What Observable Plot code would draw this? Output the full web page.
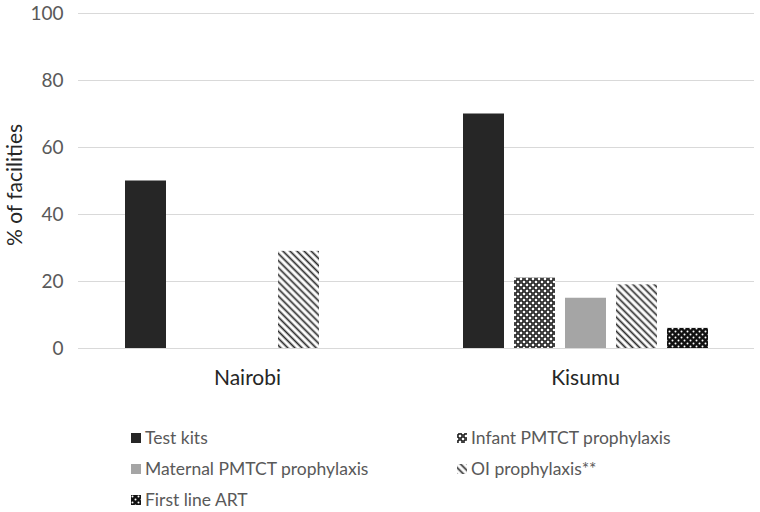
<!DOCTYPE html>
<html>
<head>
<meta charset="utf-8">
<script src="https://cdn.jsdelivr.net/npm/d3@7"></script>
<script src="https://cdn.jsdelivr.net/npm/@observablehq/plot@0.6"></script>
<style>
  body { margin: 0; background: #fff; font-family: Lato, "Open Sans", sans-serif; }
  #wrap { position: relative; width: 760px; height: 512px; overflow: hidden; }
  #legend { position: absolute; left: 131px; top: 423px; display: grid;
    grid-template-columns: 326px 290px; grid-template-rows: 29px 33px 29px;
    font-size: 17.5px; color: #595959; }
  .item { display: flex; align-items: center; white-space: nowrap; }
  .item svg { margin-right: 4px; }
</style>
</head>
<body>
<div id="wrap"><div id="chart"></div><div id="legend"></div></div>
<script>
const regions = ["Nairobi", "Kisumu"];
const series = ["Test kits", "Infant PMTCT prophylaxis", "Maternal PMTCT prophylaxis", "OI prophylaxis**", "First line ART"];
const testKits = [50, 70];
const infantPMTCT = [0, 21];
const maternalPMTCT = [0, 15];
const oiProphylaxis = [29, 19];
const firstLineART = [0, 6];
const yTicks = [0, 20, 40, 60, 80, 100];
const yLabel = "% of facilities";
const fills = ["#262626", "url(#pInfant)", "#a5a5a5", "url(#pOI)", "url(#pART)"];

const seriesValues = [testKits, infantPMTCT, maternalPMTCT, oiProphylaxis, firstLineART];
const data = [];
regions.forEach((r, i) => series.forEach((s, j) => data.push({region: r, series: s, value: seriesValues[j][i]})));

const chart = Plot.plot({
  width: 760, height: 400,
  marginTop: 13, marginBottom: 52, marginLeft: 78, marginRight: 6,
  style: {fontSize: "19px", fontFamily: "Lato, sans-serif", color: "#595959", background: "white"},
  fx: {domain: regions, padding: 0, label: null, axis: "bottom", tickSize: 0, tickPadding: 22},
  x: {domain: series, axis: null, paddingInner: 0.2, paddingOuter: 0.866},
  y: {domain: [0, 100], ticks: yTicks, tickSize: 0, tickPadding: 15, label: null},
  color: {domain: series, range: fills},
  marks: [
    Plot.ruleY(yTicks, {stroke: "#d9d9d9", strokeWidth: 1.2}),
    Plot.barY(data.filter(d => d.value > 0), {fx: "region", x: "series", y: "value", fill: "series"})
  ]
});
document.getElementById("chart").appendChild(chart);

const svg = d3.select(chart);
const defs = svg.insert("defs", ":first-child");
const pI = defs.append("pattern").attr("id", "pInfant").attr("patternUnits", "userSpaceOnUse").attr("width", 6).attr("height", 6);
pI.append("rect").attr("width", 6).attr("height", 6).attr("fill", "#fff");
[[0,0],[6,0],[0,6],[6,6],[3,3]].forEach(([cx, cy]) => pI.append("circle").attr("cx", cx).attr("cy", cy).attr("r", 2.1).attr("fill", "none").attr("stroke", "#222").attr("stroke-width", 1.3));
const pO = defs.append("pattern").attr("id", "pOI").attr("patternUnits", "userSpaceOnUse").attr("width", 5).attr("height", 5).attr("patternTransform", "rotate(45)");
pO.append("rect").attr("width", 5).attr("height", 5).attr("fill", "#fff");
pO.append("line").attr("x1", 0).attr("x2", 5).attr("y1", 2.5).attr("y2", 2.5).attr("stroke", "#2a2a2a").attr("stroke-width", 1.7);
const pA = defs.append("pattern").attr("id", "pART").attr("patternUnits", "userSpaceOnUse").attr("width", 6).attr("height", 6);
pA.append("rect").attr("width", 6).attr("height", 6).attr("fill", "#111");
[[1.5,1.5],[4.5,4.5]].forEach(([cx, cy]) => pA.append("circle").attr("cx", cx).attr("cy", cy).attr("r", 1).attr("fill", "#fff"));

// axis text sizing
svg.selectAll("text").attr("font-size", "19px").attr("font-family", "Lato, sans-serif");
svg.selectAll("[aria-label^='fx-axis'] text").attr("font-size", "21px").attr("fill", "#262626");

// y-axis title
svg.append("text")
  .attr("transform", "translate(22,185) rotate(-90)")
  .attr("text-anchor", "middle")
  .attr("font-size", "21px").attr("font-family", "Lato, sans-serif")
  .attr("fill", "#262626")
  .text(yLabel);

// legend
const legend = d3.select("#legend");
series.forEach((s, j) => {
  const it = legend.append("div").attr("class", "item");
  const sw = it.append("svg").attr("width", 10).attr("height", 10);
  sw.append("rect").attr("width", 10).attr("height", 10).attr("fill", fills[j]);
  it.append("span").text(s);
});
</script>
</body>
</html>
